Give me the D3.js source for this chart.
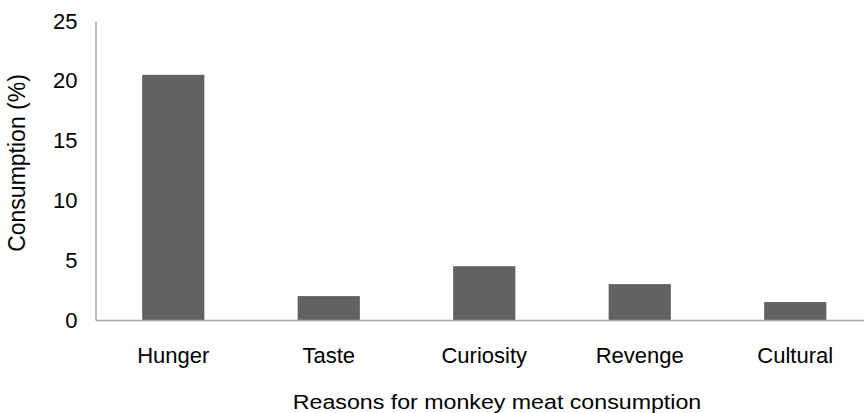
<!DOCTYPE html>
<html>
<head>
<meta charset="utf-8">
<script src="https://cdn.jsdelivr.net/npm/d3@7"></script>
<style>
  body { margin: 0; background: #fff; }
  text { font-family: "Liberation Sans", Arial, sans-serif; fill: #000; }
</style>
</head>
<body>
<div id="chart"></div>
<script>
const reasons = ["Hunger", "Taste", "Curiosity", "Revenge", "Cultural"];
const consumption = [20.5, 2.0, 4.5, 3.0, 1.5];
const yTicks = [0, 5, 10, 15, 20, 25];

const width = 864, height = 413;
const margin = { top: 21, left: 95.5, bottom: 93 };

const svg = d3.select("#chart").append("svg")
  .attr("width", width)
  .attr("height", height);

const x = d3.scaleBand()
  .domain(reasons)
  .range([margin.left, 873])
  .paddingInner(0.6)
  .paddingOuter(0.3);

const y = d3.scaleLinear()
  .domain([0, 25])
  .range([height - margin.bottom, margin.top]);

// bars
svg.selectAll("rect.bar")
  .data(reasons)
  .enter().append("rect")
  .attr("class", "bar")
  .attr("x", d => x(d))
  .attr("y", (d, i) => y(consumption[i]))
  .attr("width", x.bandwidth())
  .attr("height", (d, i) => y(0) - y(consumption[i]))
  .style("fill", "#626262");

// y axis
const yAxis = svg.append("g")
  .attr("transform", `translate(${margin.left},0)`)
  .call(d3.axisLeft(y).tickValues(yTicks).tickSize(0).tickPadding(18));
yAxis.select(".domain").attr("stroke", "#a6a6a6").attr("stroke-width", 1.5);
yAxis.selectAll("text").style("font-size", "22px");

// x axis
const xAxis = svg.append("g")
  .attr("transform", `translate(0,${y(0)})`)
  .call(d3.axisBottom(x).tickSize(0));
xAxis.select(".domain").attr("stroke", "#a6a6a6").attr("stroke-width", 1.5);
xAxis.selectAll("text")
  .attr("dy", null)
  .attr("y", 43)
  .style("font-size", "22px");

// axis titles
svg.append("text")
  .attr("transform", "translate(497,409) scale(1.16,1)")
  .attr("text-anchor", "middle")
  .style("font-size", "20px")
  .text("Reasons for monkey meat consumption");

svg.append("text")
  .attr("transform", "translate(25,163) rotate(-90)")
  .attr("text-anchor", "middle")
  .style("font-size", "23px")
  .text("Consumption (%)");
</script>
</body>
</html>
